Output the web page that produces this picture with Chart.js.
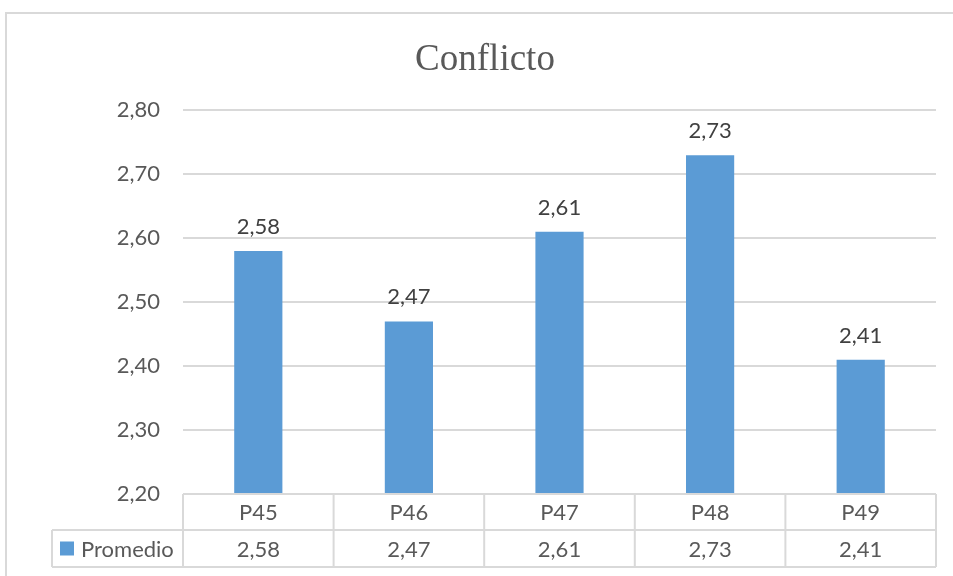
<!DOCTYPE html>
<html>
<head>
<meta charset="utf-8">
<script src="https://cdn.jsdelivr.net/npm/chart.js@4/dist/chart.umd.min.js"></script>
<style>
  html, body { margin: 0; padding: 0; background: #ffffff; }
  #wrap { width: 953px; height: 576px; position: relative; }
</style>
</head>
<body>
<div id="wrap"><canvas id="c" width="953" height="576"></canvas></div>
<script>
// Chart data
const categories = ['P45', 'P46', 'P47', 'P48', 'P49'];
const promedio = [2.58, 2.47, 2.61, 2.73, 2.41];
const seriesName = 'Promedio';
const chartTitle = 'Conflicto';
const yMin = 2.2;
const yMax = 2.8;
const yStep = 0.1;

const fmt = v => v.toFixed(2).replace('.', ',');

const BAR = '#5b9bd5';
const GRID = '#d9d9d9';
const TEXT = '#595959';
const LABEL = '#404040';
const SANS = 'Lato, "Open Sans", sans-serif';
const FONT_SIZE = 22;

// Outer chart frame
const framePlugin = {
  id: 'frame',
  beforeDraw(chart) {
    const ctx = chart.ctx;
    ctx.save();
    ctx.fillStyle = '#ffffff';
    ctx.fillRect(0, 0, chart.width, chart.height);
    ctx.strokeStyle = GRID;
    ctx.lineWidth = 2;
    ctx.strokeRect(6, 13, chart.width + 20, chart.height + 20);
    ctx.restore();
  }
};

// Value labels above each bar
const valueLabels = {
  id: 'valueLabels',
  afterDatasetsDraw(chart) {
    const ctx = chart.ctx;
    const meta = chart.getDatasetMeta(0);
    ctx.save();
    ctx.font = FONT_SIZE + 'px ' + SANS;
    ctx.fillStyle = LABEL;
    ctx.textAlign = 'center';
    ctx.textBaseline = 'alphabetic';
    meta.data.forEach((bar, i) => {
      ctx.fillText(fmt(chart.data.datasets[0].data[i]), bar.x, bar.y - 17);
    });
    ctx.restore();
  }
};

// Data table under the plot (category row + values row with legend key)
const dataTable = {
  id: 'dataTable',
  afterDraw(chart) {
    const ctx = chart.ctx;
    const a = chart.chartArea;
    const n = categories.length;
    const w = a.width / n;
    const top = a.bottom;
    const r1 = top + 36;
    const r2 = top + 73;
    const legendLeft = a.left - 131;
    const xs = chart.scales.x;

    ctx.save();
    ctx.strokeStyle = GRID;
    ctx.lineWidth = 2;
    ctx.beginPath();
    ctx.moveTo(a.left, top); ctx.lineTo(a.right, top);
    ctx.moveTo(legendLeft, r1); ctx.lineTo(a.right, r1);
    ctx.moveTo(legendLeft, r2); ctx.lineTo(a.right, r2);
    for (let i = 0; i <= n; i++) {
      const x = a.left + i * w;
      ctx.moveTo(x, top); ctx.lineTo(x, r2);
    }
    ctx.moveTo(legendLeft, r1); ctx.lineTo(legendLeft, r2);
    ctx.stroke();

    ctx.font = FONT_SIZE + 'px ' + SANS;
    ctx.fillStyle = TEXT;
    ctx.textAlign = 'center';
    ctx.textBaseline = 'middle';
    categories.forEach((c, i) => {
      const cx = xs.getPixelForValue(i);
      ctx.fillText(c, cx, (top + r1) / 2 + 1);
      ctx.fillText(fmt(promedio[i]), cx, (r1 + r2) / 2 + 1);
    });

    // legend key
    const midY = (r1 + r2) / 2;
    ctx.fillStyle = BAR;
    ctx.fillRect(legendLeft + 8, midY - 7, 14, 14);
    ctx.fillStyle = TEXT;
    ctx.textAlign = 'left';
    ctx.fillText(seriesName, legendLeft + 29, midY + 1);
    ctx.restore();
  }
};

new Chart(document.getElementById('c'), {
  type: 'bar',
  data: {
    labels: categories,
    datasets: [{
      label: seriesName,
      data: promedio,
      backgroundColor: BAR,
      borderWidth: 0,
      categoryPercentage: 1.0,
      barPercentage: 0.32
    }]
  },
  options: {
    responsive: false,
    animation: false,
    layout: { padding: { left: 34, right: 17, top: 0, bottom: 82 } },
    plugins: {
      legend: { display: false },
      tooltip: { enabled: false },
      title: {
        display: true,
        text: chartTitle,
        color: TEXT,
        font: { family: '"Liberation Serif", "Times New Roman", serif', size: 37, weight: 'normal' },
        padding: { top: 38, bottom: 28 }
      }
    },
    scales: {
      x: {
        display: false,
        grid: { display: false }
      },
      y: {
        min: yMin,
        max: yMax,
        afterFit(scale) { scale.width = 149; },
        border: { display: false },
        grid: { color: GRID, lineWidth: 2, drawTicks: false },
        ticks: {
          stepSize: yStep,
          padding: 23,
          color: TEXT,
          font: { family: SANS, size: FONT_SIZE },
          callback: v => fmt(v)
        }
      }
    }
  },
  plugins: [framePlugin, valueLabels, dataTable]
});
</script>
</body>
</html>
